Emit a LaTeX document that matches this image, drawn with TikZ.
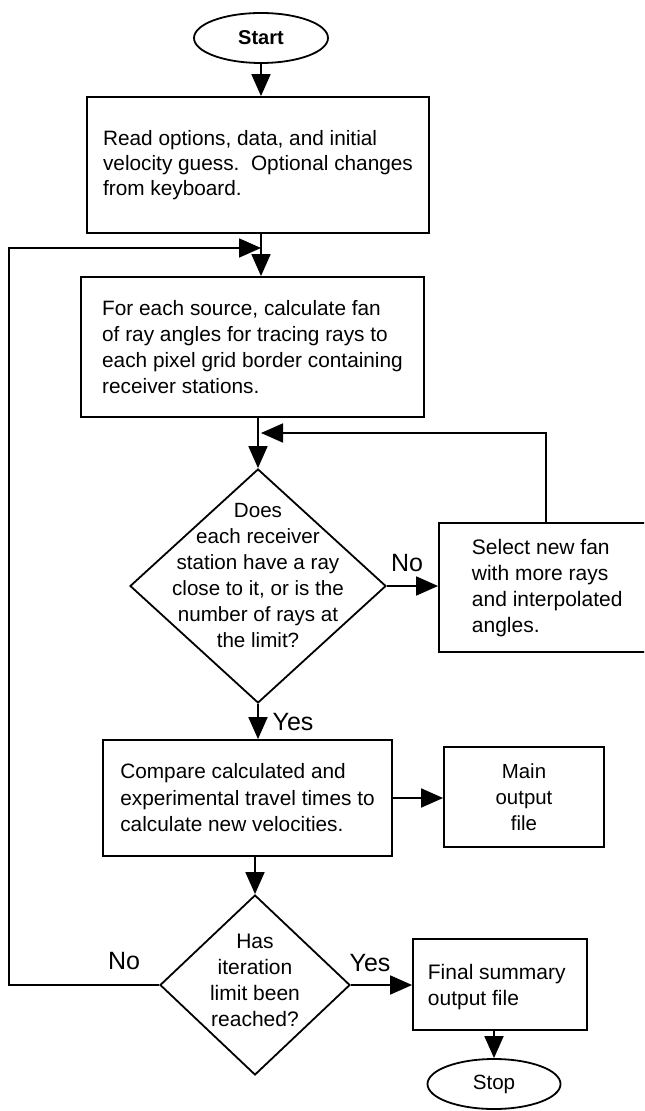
\documentclass[tikz,border=0pt]{standalone}
\usepackage{fontspec}
\setmainfont{Liberation Sans}
\usetikzlibrary{shapes.geometric,arrows.meta}
\begin{document}
\begin{tikzpicture}[x=0.5pt,y=-0.5pt, line width=0.9pt,
  txt/.style={font=\fontsize{10.5}{13}\selectfont},
  box/.style={draw, rectangle, inner sep=0pt, align=left, txt},
  term/.style={draw, ellipse, inner sep=0pt, txt},
  dec/.style={draw, diamond, inner sep=0pt},
  arr/.style={-{Triangle[length=11pt,width=9.5pt]}},
  lbl/.style={font=\fontsize{12.5}{14}\selectfont}]
\clip (0,0) rectangle (644,1111);
\node[term, minimum width=67pt, minimum height=25pt, font=\bfseries\fontsize{10}{12}\selectfont] (start) at (261,38) {Start};
\node[box, minimum width=171pt, minimum height=68pt, font=\fontsize{10.4}{12.5}\selectfont] (read) at (258,165) {Read options, data, and initial\\velocity guess.\ \ Optional changes\\from keyboard.};
\node[box, minimum width=171.5pt, minimum height=70pt, font=\fontsize{10.4}{13}\selectfont] (fan) at (252.5,347) {For each source, calculate fan\\of ray angles for tracing rays to\\each pixel grid border containing\\receiver stations.};
\node[dec, minimum width=128pt, minimum height=117pt] (d1) at (258,586) {};
\node[txt, align=center, font=\fontsize{10.3}{13}\selectfont] (d1t) at (258,576) {Does\\each receiver\\station have a ray\\close to it, or is the\\number of rays at\\the limit?};
\node[box, minimum width=110.5pt, minimum height=64.5pt] (sel) at (549.5,587.5) {};
\node[txt, align=left, anchor=west, inner sep=0pt] (selt) at (471,588) {Select new fan\\with more rays\\and interpolated\\angles.};
\node[box, minimum width=144.5pt, minimum height=58pt, font=\fontsize{10.4}{13.25}\selectfont] (cmp) at (247.5,798) {Compare calculated and\\experimental travel times to\\calculate new velocities.};
\node[box, align=center, minimum width=80pt, minimum height=50pt, font=\fontsize{10.2}{13}\selectfont] (main) at (524,797) {Main\\output\\file};
\node[dec, minimum width=95pt, minimum height=90pt] (d2) at (255,985) {};
\node[txt, align=center] (d2t) at (255,980) {Has\\iteration\\limit been\\reached?};
\node[box, minimum width=87pt, minimum height=45.5pt] (fin) at (500,984.5) {};
\node[txt, align=left, anchor=west, inner sep=0pt] (fint) at (427,987) {Final summary\\output file};
\node[term, minimum width=66.5pt, minimum height=25pt, font=\fontsize{10.3}{12}\selectfont] (stop) at (494,1084) {Stop};
\coordinate (jn) at (261,248);
\coordinate (lc1) at (9,248);
\coordinate (lc2) at (9,985);
\coordinate (fb) at (261,433);
\draw[arr] (start.south) -- (start.south |- read.north);
\draw[arr] (start.south |- read.south) -- (start.south |- fan.north);
\draw[arr] (d2.west) -- (lc2) -- (lc1) -- (jn);
\draw[arr] (fan.south -| d1.north) -- (d1.north);
\draw[arr] (sel.north -| 546,0) |- (fb);
\draw[arr] (d1.east) -- (d1.east -| sel.west);
\draw[arr] (d1.south) -- (d1.south |- cmp.north);
\draw[arr] (cmp.east) -- (cmp.east -| main.west);
\draw[arr] (cmp.south -| d2.north) -- (d2.north);
\draw[arr] (d2.east) -- (d2.east -| fin.west);
\draw[arr] (fin.south -| stop.north) -- (stop.north);
\node[lbl] (no1) at (407,563) {No};
\node[lbl] (yes1) at (293,722) {Yes};
\node[lbl] (no2) at (124,961) {No};
\node[lbl] (yes2) at (370,963) {Yes};
\end{tikzpicture}
\end{document}
